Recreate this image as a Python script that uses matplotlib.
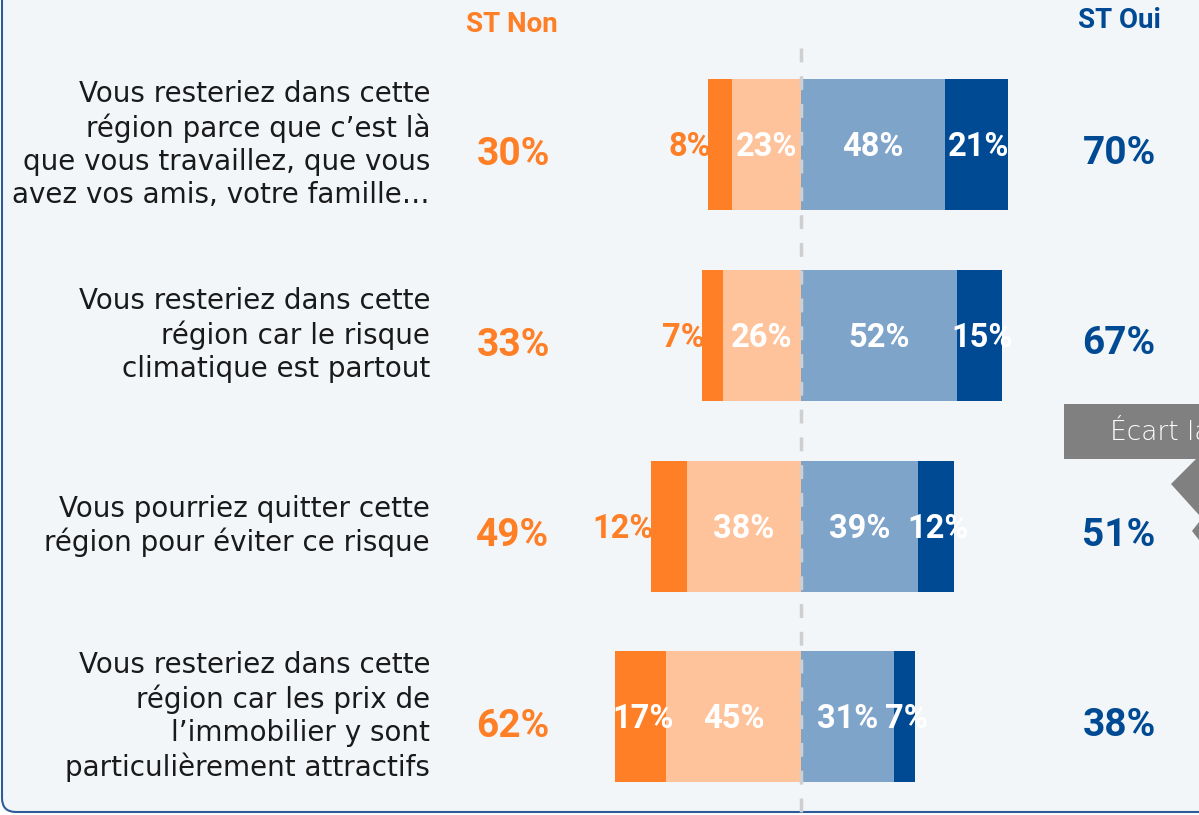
import matplotlib
matplotlib.use("Agg")
import matplotlib.pyplot as plt
from matplotlib.patches import FancyBboxPatch, Polygon, Rectangle
from matplotlib.transforms import IdentityTransform

categories = [
    "Vous resteriez dans cette\nrégion parce que c\u2019est là\nque vous travaillez, que vous\navez vos amis, votre famille\u2026",
    "Vous resteriez dans cette\nrégion car le risque\nclimatique est partout",
    "Vous pourriez quitter cette\nrégion pour éviter ce risque",
    "Vous resteriez dans cette\nrégion car les prix de\nl\u2019immobilier y sont\nparticulièrement attractifs",
]
non_fort = [8, 7, 12, 17]
non_plutot = [23, 26, 38, 45]
oui_plutot = [48, 52, 39, 31]
oui_fort = [21, 15, 12, 7]
st_non = [30, 33, 49, 62]
st_oui = [70, 67, 51, 38]
headers = ["ST Non", "ST Oui"]

C_DO = "#FF7F27"
C_LO = "#FFC39C"
C_LB = "#7FA4C9"
C_DB = "#004A93"
BG = "#F2F6F9"
NUMFONT = ["Roboto", "DejaVu Sans"]

W, H = 1199, 815
fig = plt.figure(figsize=(W / 100, H / 100), dpi=100)
fig.patch.set_facecolor("white")
ax = fig.add_axes([0, 0, 1, 1])
ax.set_facecolor("none")
# x in percent: 0 at pixel 801, 3 px per percent
X0, S = 801, 3.0
def px(x):
    return (x - X0) / S
ax.set_xlim(px(0), px(W))
ax.set_ylim(H, 0)
ax.axis("off")

# background frame
frame = FancyBboxPatch((2, 3), 1400, 1000, boxstyle="round,pad=0,rounding_size=14",
                       transform=IdentityTransform(), facecolor=BG, edgecolor="#2E5C99",
                       linewidth=1.5, zorder=0, clip_on=False)
ax.add_patch(frame)

row_y = [144.5, 335, 526, 716.5]
bh = 131

# dashed center line
ax.plot([0, 0], [48, H], color="#CFCFCF", lw=2.5, ls=(0, (4, 4)), zorder=3)

for i, yc in enumerate(row_y):
    a, b, c, d = non_fort[i], non_plutot[i], oui_plutot[i], oui_fort[i]
    ax.barh(yc, -b, left=0, height=bh, color=C_LO, zorder=2)
    ax.barh(yc, -a, left=-b, height=bh, color=C_DO, zorder=2)
    ax.barh(yc, c, left=0, height=bh, color=C_LB, zorder=2)
    ax.barh(yc, d, left=c, height=bh, color=C_DB, zorder=2)
    lab_kw = dict(fontsize=23.5, fontweight="bold", va="center", zorder=5,
                  family=NUMFONT)
    ty = yc + 3
    ax.text(-b / 2, ty, f"{b}%", color="white", ha="center", **lab_kw)
    ax.text(c / 2, ty, f"{c}%", color="white", ha="center", **lab_kw)
    ax.text(c + d / 2 + 0.7, ty, f"{d}%", color="white", ha="center", **lab_kw)
    if a >= 15:
        ax.text(-b - a / 2 + 1, ty, f"{a}%", color="white", ha="center", **lab_kw)
    else:
        ax.text(-b - a + 1, ty, f"{a}%", color=C_DO, ha="right", **lab_kw)
    # totals
    ax.text(px(513), yc + 10, f"{st_non[i]}%", color=C_DO, ha="center", va="center",
            fontsize=28, fontweight="bold", family=NUMFONT, zorder=5)
    ax.text(px(1119), yc + 9, f"{st_oui[i]}%", color=C_DB, ha="center", va="center",
            fontsize=28, fontweight="bold", family=NUMFONT, zorder=5)
    # category
    ax.text(px(430), yc, categories[i], color="#1A1A1A", ha="right", va="center",
            fontsize=20, linespacing=1.22, zorder=5)

ax.text(px(512), 24, headers[0], color=C_DO, ha="center", va="center",
        fontsize=20, fontweight="bold", family=NUMFONT, zorder=5)
ax.text(px(1119), 20, headers[1], color=C_DB, ha="center", va="center",
        fontsize=20, fontweight="bold", family=NUMFONT, zorder=5)

# grey callout partially visible at right edge
ax.add_patch(Rectangle((px(1064), 404), 200, 55, facecolor="#808080", edgecolor="none",
                       zorder=4, clip_on=False))
ax.text(px(1110), 432, "Écart la", color="white", ha="left", va="center",
        fontsize=19, fontweight="light", zorder=6, clip_on=False)
ax.add_patch(Polygon([(px(1196), 459), (px(1171), 484), (px(1199), 515), (px(1199), 459)],
                     closed=True, facecolor="#808080", edgecolor="none", zorder=4))
ax.add_patch(Polygon([(px(1199), 522), (px(1192), 531), (px(1199), 540)],
                     closed=True, facecolor="#808080", edgecolor="none", zorder=4))

fig.savefig("out.png", dpi=100, facecolor=fig.get_facecolor())
